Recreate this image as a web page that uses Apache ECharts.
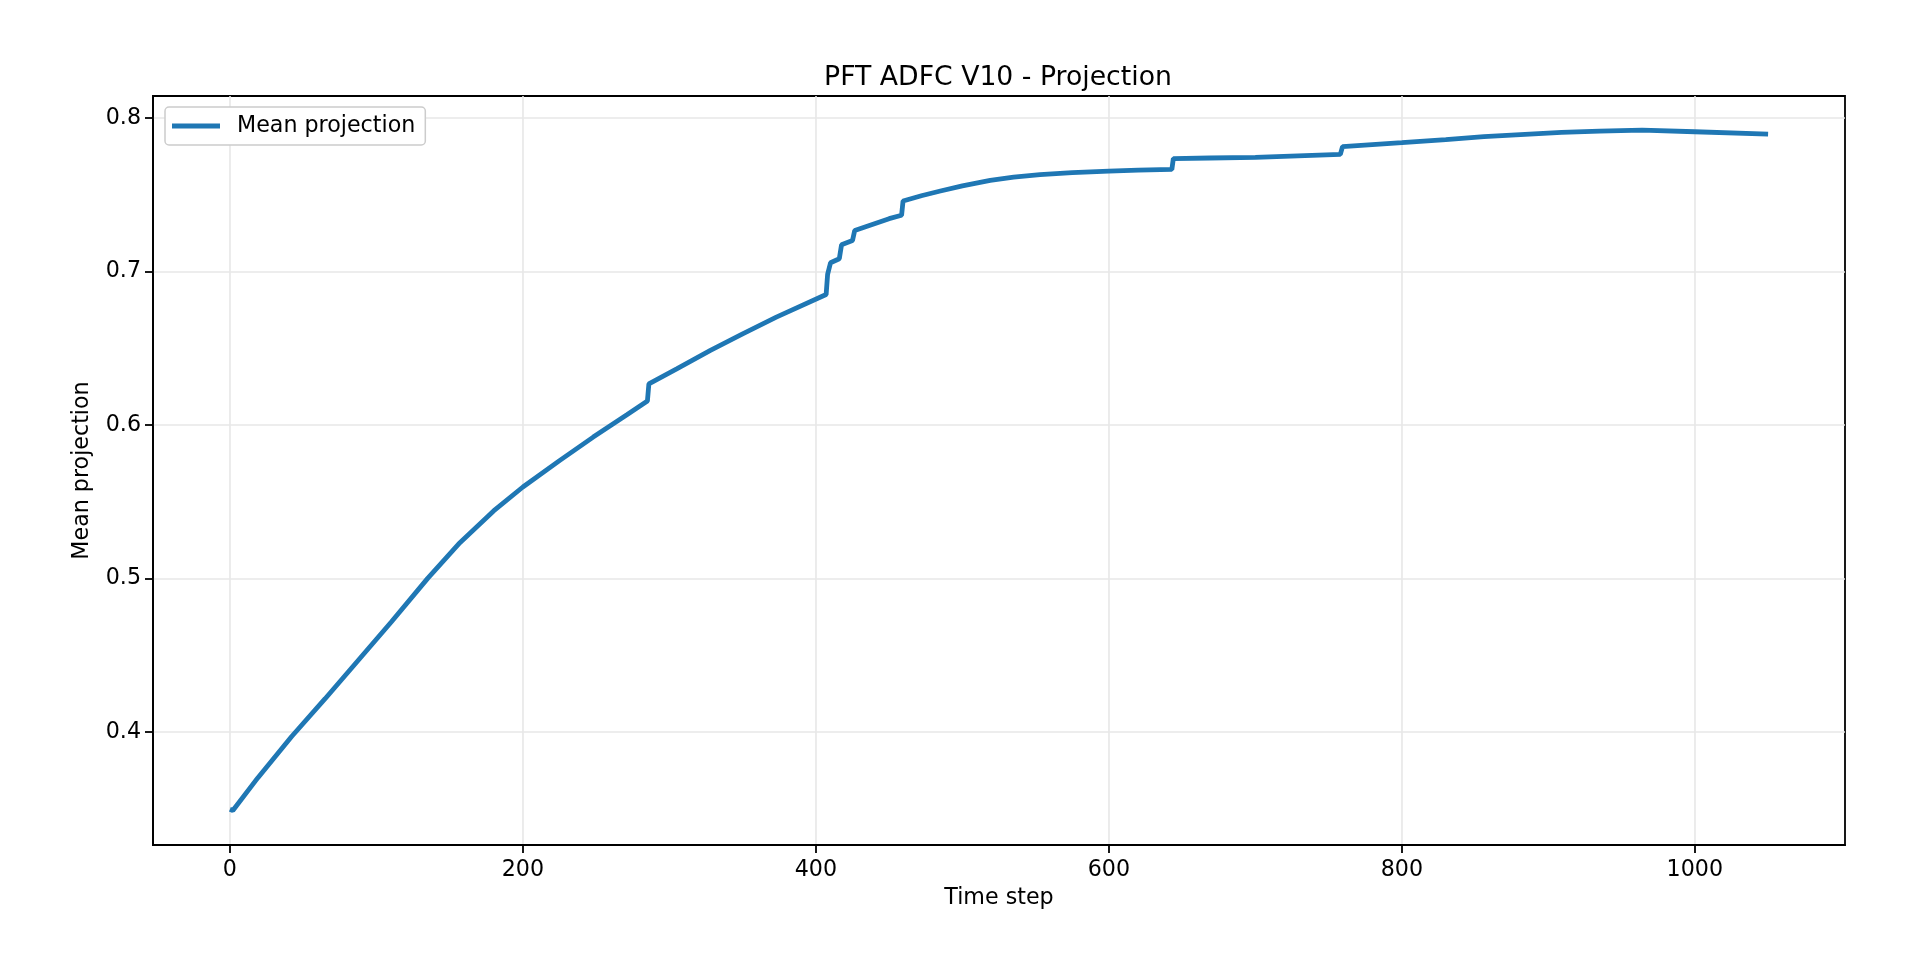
<!DOCTYPE html>
<html>
<head>
<meta charset="utf-8">
<title>PFT ADFC V10 - Projection</title>
<script src="https://cdn.jsdelivr.net/npm/echarts@6/dist/echarts.min.js"></script>
<style>
  html, body { margin: 0; padding: 0; background: #fff; }
  #chart { width: 1920px; height: 960px; }
</style>
</head>
<body>
<div id="chart"></div>
<script>
// values
const timeSteps = [0, 2, 19, 42, 65, 87.5, 110, 135, 157, 180, 200, 225, 248, 271, 285, 286, 305, 328, 350, 373,
  407, 408, 410, 416, 417.5, 425, 426.5, 450, 458.5, 459.5, 472, 485, 500, 519, 535, 553, 575, 600, 620, 643, 644,
  669, 700, 758, 759.5, 800, 830, 856, 909, 935, 964, 1000, 1050];
const meanProjection = [0.3496, 0.3488, 0.37, 0.3968, 0.4216, 0.4465, 0.4714, 0.5, 0.5232, 0.5439, 0.5595,
  0.5767, 0.592, 0.6065, 0.6155, 0.6267, 0.6365, 0.6485, 0.6593, 0.6702, 0.6849, 0.698, 0.7056, 0.7082, 0.7173,
  0.7201, 0.7266, 0.7343, 0.7365, 0.7458, 0.7492, 0.7523, 0.7557, 0.7593, 0.7614, 0.763, 0.7643, 0.7653, 0.7659,
  0.7664, 0.7734, 0.7738, 0.7742, 0.7762, 0.7812, 0.7838, 0.7858, 0.7877, 0.7905, 0.7913, 0.792, 0.7909, 0.7894];
const xTicks = [0, 200, 400, 600, 800, 1000];
const yTicks = [0.4, 0.5, 0.6, 0.7, 0.8];

const font = 'DejaVu Sans';
const gridColor = '#e7e7e7';

const chart = echarts.init(document.getElementById('chart'));

chart.setOption({
  animation: false,
  backgroundColor: '#fff',
  textStyle: { fontFamily: font },
  title: {
    text: 'PFT ADFC V10 - Projection',
    left: 998,
    textAlign: 'center',
    top: 65,
    padding: 0,
    textStyle: { fontFamily: font, fontSize: 26.7, fontWeight: 'normal', color: '#000' }
  },
  legend: {
    left: 165,
    top: 107,
    padding: [7, 10, 7, 7],
    icon: 'rect',
    itemWidth: 48,
    itemHeight: 5,
    backgroundColor: '#fff',
    borderColor: '#cccccc',
    borderWidth: 1.5,
    borderRadius: 4,
    textStyle: { fontFamily: font, fontSize: 22.2, color: '#000', padding: [0, 0, 0, 12], lineHeight: 24 },
    data: ['Mean projection']
  },
  grid: {
    left: 153, right: 75, top: 96, bottom: 115,
    show: true, borderColor: '#000', borderWidth: 1.8
  },
  xAxis: {
    type: 'value',
    min: -52.5,
    max: 1102.5,
    name: 'Time step',
    nameLocation: 'middle',
    nameGap: 42,
    nameTextStyle: { fontFamily: font, fontSize: 22.2, color: '#000' },
    axisLine: { show: true, onZero: false, lineStyle: { color: '#000', width: 1.8 } },
    axisTick: { show: true, length: 8, lineStyle: { color: '#000', width: 1.8 }, customValues: xTicks },
    axisLabel: { color: '#000', fontFamily: font, fontSize: 22.2, margin: 14, customValues: xTicks,
      formatter: v => String(v) },
    splitLine: { show: true, lineStyle: { color: gridColor, width: 1.6 } }
  },
  yAxis: {
    type: 'value',
    min: 0.3263,
    max: 0.8142,
    name: 'Mean projection',
    nameLocation: 'middle',
    nameGap: 60,
    nameTextStyle: { fontFamily: font, fontSize: 22.2, color: '#000' },
    axisLine: { show: true, onZero: false, lineStyle: { color: '#000', width: 1.8 } },
    axisTick: { show: true, length: 8, lineStyle: { color: '#000', width: 1.8 }, customValues: yTicks },
    axisLabel: { color: '#000', fontFamily: font, fontSize: 22.2, margin: 12, customValues: yTicks,
      formatter: v => v.toFixed(1) },
    splitLine: { show: true, lineStyle: { color: gridColor, width: 1.6 } }
  },
  series: [{
    name: 'Mean projection',
    type: 'line',
    showSymbol: false,
    symbol: 'none',
    color: '#1f77b4',
    lineStyle: { width: 4.8, color: '#1f77b4' },
    data: timeSteps.map((t, i) => [t, meanProjection[i]])
  }]
});

window.addEventListener('resize', () => chart.resize());
</script>
</body>
</html>
